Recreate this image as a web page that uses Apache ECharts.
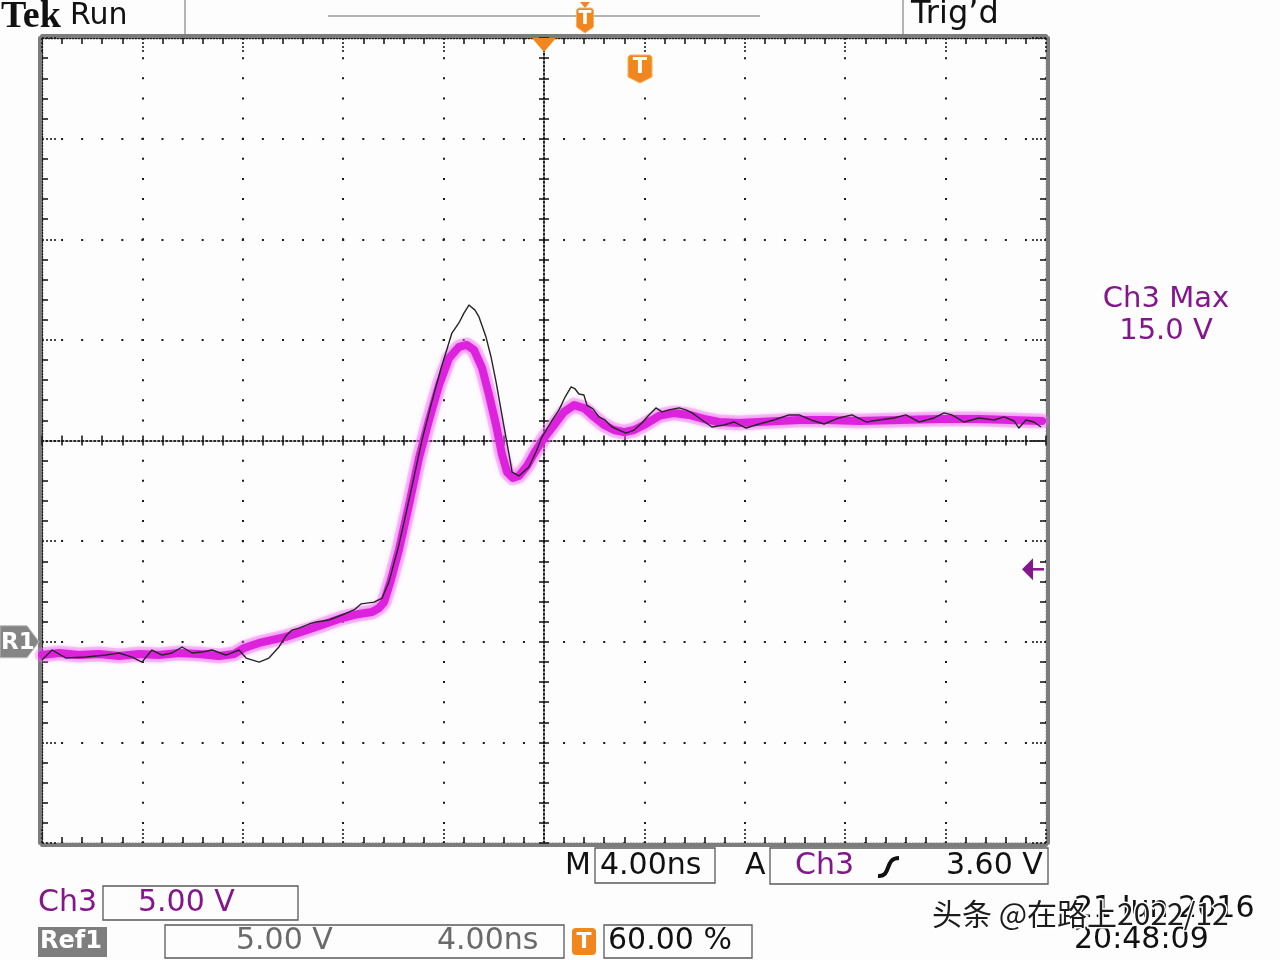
<!DOCTYPE html>
<html><head><meta charset="utf-8">
<script src="https://cdn.jsdelivr.net/npm/echarts@6/dist/echarts.min.js"></script>
<style>html,body{margin:0;padding:0;background:#fff}#c{width:1280px;height:960px}</style>
</head><body><div id="c"></div>
<script>
// Ch3 (live, magenta) : time in ns, volts
const ch3T = [-20.0,-19.32,-18.53,-17.73,-16.93,-16.14,-15.34,-14.54,-13.75,-12.95,-12.35,-11.95,-11.35,-10.28,-9.08,-8.05,-7.37,-6.85,-6.57,-6.37,-6.10,-5.78,-5.38,-4.98,-4.58,-4.18,-3.78,-3.39,-3.07,-2.79,-2.47,-2.19,-1.91,-1.67,-1.47,-1.24,-1.00,-0.68,-0.36,0,0.40,0.80,1.20,1.59,1.99,2.39,2.79,3.19,3.59,3.98,4.58,5.18,5.78,6.37,6.97,7.77,8.57,9.36,10.16,11.35,12.55,14.14,15.74,17.33,18.53,19.84];
const ch3V = [-0.66,-0.56,-0.66,-0.61,-0.71,-0.61,-0.66,-0.56,-0.61,-0.71,-0.61,-0.31,-0.06,0.24,0.73,1.18,1.38,1.48,1.68,1.97,3.07,4.56,6.79,9.13,11.02,12.76,14.10,14.65,14.75,14.50,13.61,12.26,10.77,9.28,8.43,8.14,8.24,8.73,9.43,10.12,10.77,11.42,11.76,11.61,11.17,10.77,10.52,10.42,10.52,10.77,11.22,11.37,11.27,11.07,10.92,10.87,10.92,10.97,11.02,11.02,10.97,11.02,11.07,11.07,11.02,10.97];
// Ref1 (stored, black)
const ref1T = [-20.0,-19.60,-19.04,-18.25,-17.45,-16.93,-16.41,-16.02,-15.62,-15.22,-14.82,-14.42,-14.02,-13.63,-13.23,-12.67,-12.15,-11.87,-11.35,-10.96,-10.56,-10.28,-10.04,-9.76,-9.36,-9.08,-8.57,-8.05,-7.57,-7.29,-6.77,-6.45,-6.18,-5.78,-5.38,-4.86,-4.50,-4.10,-3.90,-3.67,-3.39,-3.19,-2.99,-2.75,-2.59,-2.31,-2.11,-1.91,-1.59,-1.39,-1.27,-1.00,-0.60,-0.32,-0.08,0.28,0.60,0.84,1.08,1.24,1.39,1.59,1.71,1.95,2.19,2.43,2.71,2.99,3.27,3.59,3.90,4.18,4.46,4.70,4.98,5.38,5.66,5.90,6.18,6.69,7.17,7.57,8.05,8.57,9.16,9.76,10.16,10.64,11.16,11.75,12.27,12.83,13.35,13.94,14.42,14.94,15.54,15.94,16.25,16.73,17.33,17.93,18.33,18.73,18.92,19.20,19.52,19.80];
const ref1V = [-0.91,-0.41,-0.81,-0.76,-0.66,-0.56,-0.76,-1.01,-0.41,-0.66,-0.56,-0.26,-0.56,-0.51,-0.41,-0.66,-0.41,-0.81,-1.01,-0.81,-0.26,0.29,0.58,0.68,0.88,0.98,1.08,1.33,1.58,1.88,1.97,2.17,2.97,4.81,7.04,10.02,11.77,13.60,14.40,15.34,15.84,16.33,16.73,16.48,16.14,15.14,14.15,12.91,10.67,9.28,8.43,8.24,8.68,9.43,10.17,10.92,11.52,12.16,12.66,12.56,12.31,12.26,11.76,11.57,11.17,11.02,10.67,10.52,10.37,10.52,10.87,11.27,11.62,11.42,11.52,11.62,11.52,11.37,11.12,10.67,10.77,10.92,10.62,10.82,11.02,11.27,11.27,11.02,10.82,11.12,11.27,10.92,11.02,11.12,11.27,10.92,11.12,11.37,11.27,10.92,11.12,11.02,11.17,10.97,10.62,11.02,10.92,10.67];
// axis ranges (10 div x 4 ns, 8 div x 5 V)
const xRange = [-20, 20], xDiv = 4;
const yRange = [-10, 30], yDiv = 5;
const trigLevel = 3.60, refGround = 0, trigTime = 0;
// readouts
const header = {tek:'Tek', run:'Run', trig:'Trig\u2019d'};
const ch3MaxLines = ['Ch3 Max', '15.0 V'];
const timeBase = '4.00ns', trigSrc = 'Ch3', trigLevelTxt = '3.60 V';
const ch3Scale = '5.00 V', ref1Scale = '5.00 V', ref1Time = '4.00ns', trigPos = '60.00 %';
const dateTxt = ['21 Jun 2016', '20:48:09'];
const watermark = '头条 @在路上2022/12';

const zip = (a, b) => a.map((v, i) => [v, b[i]]);
const INK = '#1a1a1a', PURPLE = '#84168c', ORANGE = '#f0861c';
const F = '"DejaVu Sans", Verdana, sans-serif';

const gridRect = {left: 42, top: 38, width: 1004, height: 805};
const edgeX = (pos) => ({
  gridIndex: 0, type: 'value', position: pos, min: xRange[0], max: xRange[1], interval: xDiv,
  axisLine: {show: true, onZero: false, lineStyle: {color: INK, width: 1.3, type: [1.5, 1.5]}},
  axisTick: {show: true, inside: true, length: 14, lineStyle: {color: INK, width: 1.6, type: [2, 2]}},
  minorTick: {show: true, splitNumber: 5, length: 6, lineStyle: {color: INK, width: 1.6}},
  axisLabel: {show: false},
  splitLine: {show: pos === 'bottom', lineStyle: {color: INK, width: 2, type: [2, 18.125], dashOffset: 1}}
});
const edgeY = (pos) => ({
  gridIndex: 0, type: 'value', position: pos, min: yRange[0], max: yRange[1], interval: yDiv,
  axisLine: {show: true, onZero: false, lineStyle: {color: INK, width: 1.3, type: [1.5, 1.5]}},
  axisTick: {show: true, inside: true, length: 14, lineStyle: {color: INK, width: 1.6, type: [2, 2]}},
  minorTick: {show: true, splitNumber: 5, length: 6, lineStyle: {color: INK, width: 1.6}},
  axisLabel: {show: false},
  splitLine: {show: pos === 'left', lineStyle: {color: INK, width: 2, type: [2, 18.08], dashOffset: 1}}
});
const borderX = (pos) => ({
  gridIndex: 0, type: 'value', position: pos, offset: 2, min: xRange[0], max: xRange[1],
  axisLine: {show: true, onZero: false, lineStyle: {color: '#7c7c7c', width: 4}},
  axisTick: {show: false}, axisLabel: {show: false}, splitLine: {show: false}
});
const borderY = (pos) => ({
  gridIndex: 0, type: 'value', position: pos, offset: 2, min: yRange[0], max: yRange[1],
  axisLine: {show: true, onZero: false, lineStyle: {color: '#7c7c7c', width: 4}},
  axisTick: {show: false}, axisLabel: {show: false}, splitLine: {show: false}
});
const centerX = (inside) => ({
  gridIndex: 1, type: 'value', position: 'bottom', min: -20, max: 20, interval: 4,
  axisLine: {show: true, onZero: true, lineStyle: {color: INK, width: 1.6, type: [1.6, 2.4]}},
  axisTick: {show: true, inside: inside, length: 5, lineStyle: {color: INK, width: 1.6}},
  minorTick: {show: true, splitNumber: 5, length: 5, lineStyle: {color: INK, width: 1.6}},
  axisLabel: {show: false}, splitLine: {show: false}
});
const centerY = (inside) => ({
  gridIndex: 1, type: 'value', position: 'left', min: -20, max: 20, interval: 5,
  axisLine: {show: true, onZero: true, lineStyle: {color: INK, width: 1.6, type: [1.6, 2.4]}},
  axisTick: {show: true, inside: inside, length: 5, lineStyle: {color: INK, width: 1.6}},
  minorTick: {show: true, splitNumber: 5, length: 5, lineStyle: {color: INK, width: 1.6}},
  axisLabel: {show: false}, splitLine: {show: false}
});

const chart = echarts.init(document.getElementById('c'), null, {renderer: 'canvas'});
chart.setOption({
  backgroundColor: '#fdfdfe',
  animation: false,
  grid: [Object.assign({}, gridRect), Object.assign({}, gridRect)],
  xAxis: [edgeX('bottom'), edgeX('top'), borderX('bottom'), borderX('top'), centerX(true), centerX(false)],
  yAxis: [edgeY('left'), edgeY('right'), borderY('left'), borderY('right'), centerY(true), centerY(false)],
  series: [
    {type: 'line', xAxisIndex: 0, yAxisIndex: 0, data: zip(ch3T, ch3V), showSymbol: false, silent: true,
     lineStyle: {color: 'rgba(236,110,236,0.33)', width: 15, cap: 'round', join: 'round'}, z: 3},
    {type: 'line', xAxisIndex: 0, yAxisIndex: 0, data: zip(ch3T, ch3V), showSymbol: false, silent: true,
     lineStyle: {color: '#dc22dc', width: 8, cap: 'round', join: 'round', shadowBlur: 6, shadowColor: 'rgba(240,80,240,0.8)'}, z: 4},
    {type: 'line', xAxisIndex: 0, yAxisIndex: 0, data: zip(ref1T, ref1V), showSymbol: false, silent: true,
     lineStyle: {color: '#262626', width: 1.4, join: 'round'}, z: 5}
  ]
});

const px = (t, v) => chart.convertToPixel({xAxisIndex: 0, yAxisIndex: 0}, [t, v]);
const pL = px(xRange[0], refGround);        // R1 ground marker
const pR = px(xRange[1], trigLevel);        // trigger level arrow
const pT = px(trigTime, yRange[1]);         // trigger time marker

const txt = (s, x, y, size, fill, opts) => Object.assign({
  type: 'text', x: x, y: y, z: 100,
  style: Object.assign({text: s, font: size + 'px ' + F, fill: fill, textAlign: 'left', textVerticalAlign: 'middle'}, (opts || {}))
});
const box = (x, y, w, h) => ({type: 'rect', z: 90, shape: {x: x, y: y, width: w, height: h}, style: {fill: 'none', stroke: '#5a5a5a', lineWidth: 1.3}});
const tIcon = (cx, top, w, h) => ([
  {type: 'polygon', z: 95, shape: {points: [[cx - w/2, top + 2], [cx - w/2 + 2, top], [cx + w/2 - 2, top], [cx + w/2, top + 2], [cx + w/2, top + h - 6], [cx, top + h], [cx - w/2, top + h - 6]]},
   style: {fill: ORANGE, stroke: '#f6b070', lineWidth: 1}},
  {type: 'text', z: 96, x: cx, y: top + h/2 - 1, style: {text: 'T', font: 'bold ' + Math.round(h*0.75) + 'px ' + F, fill: '#fff', textAlign: 'center', textVerticalAlign: 'middle'}}
]);

const g = [];
// header
g.push(txt(header.tek, 1, 17, 38, '#111', {font: 'bold 38px "Liberation Serif", serif'}));
g.push(txt(header.run, 70, 16, 30, '#111'));
g.push({type: 'line', z: 90, shape: {x1: 185, y1: 0, x2: 185, y2: 34}, style: {stroke: '#9a9a9a', lineWidth: 1.5}});
g.push({type: 'line', z: 90, shape: {x1: 903, y1: 0, x2: 903, y2: 34}, style: {stroke: '#9a9a9a', lineWidth: 1.5}});
g.push({type: 'line', z: 90, shape: {x1: 328, y1: 16, x2: 760, y2: 16}, style: {stroke: '#6a6a6a', lineWidth: 1.2}});
g.push({type: 'polygon', z: 95, shape: {points: [[580, 2], [590, 2], [585, 8]]}, style: {fill: ORANGE}});
g.push(...tIcon(585, 8, 17, 25));
g.push(txt(header.trig, 911, 15, 32, '#111'));
// trigger position marker on graticule
g.push({type: 'polygon', z: 95, shape: {points: [[pT[0] - 12, pT[1]], [pT[0] + 12, pT[1]], [pT[0], pT[1] + 14]]}, style: {fill: ORANGE}});
g.push(...tIcon(640, 55, 24, 28));
// R1 marker
g.push({type: 'polygon', z: 95, shape: {points: [[0, pL[1] - 16], [27, pL[1] - 16], [pL[0] - 3, pL[1]], [27, pL[1] + 16], [0, pL[1] + 16]]},
  style: {fill: '#858585', stroke: '#bdbdbd', lineWidth: 1}});
g.push(txt('R1', 1, pL[1] + 1, 23, '#fff', {font: 'bold 23px ' + F}));
// trigger level arrow
g.push({type: 'polygon', z: 95, shape: {points: [[pR[0] - 24, pR[1]], [pR[0] - 13, pR[1] - 11], [pR[0] - 13, pR[1] + 11]]}, style: {fill: PURPLE}});
g.push({type: 'line', z: 95, shape: {x1: pR[0] - 14, y1: pR[1], x2: pR[0] - 2, y2: pR[1]}, style: {stroke: PURPLE, lineWidth: 2.5}});
// Ch3 Max readout
g.push(txt(ch3MaxLines[0], 1166, 299, 29, PURPLE, {textAlign: 'center'}));
g.push(txt(ch3MaxLines[1], 1166, 331, 29, PURPLE, {textAlign: 'center'}));
// bottom row 1
g.push(txt('M', 565, 866, 30, '#111'));
g.push(box(595, 848, 120, 35));
g.push(txt(timeBase, 600, 866, 30, '#111'));
g.push(txt('A', 745, 866, 30, '#111'));
g.push(box(770, 848, 278, 36));
g.push(txt(trigSrc, 795, 866, 30, PURPLE));
g.push({type: 'bezierCurve', z: 96, shape: {x1: 878, y1: 876, cpx1: 892, cpy1: 877, cpx2: 884, cpy2: 858, x2: 899, y2: 858}, style: {stroke: '#111', lineWidth: 4, fill: 'none'}});
g.push(txt(trigLevelTxt, 946, 866, 30, '#111'));
// bottom row 2
g.push(txt('Ch3', 38, 903, 30, PURPLE));
g.push(box(103, 886, 195, 34));
g.push(txt(ch3Scale, 138, 903, 30, PURPLE));
// bottom row 3
g.push({type: 'rect', z: 90, shape: {x: 38, y: 927, width: 69, height: 30}, style: {fill: '#7e7e7e'}});
g.push(txt('Ref1', 40, 942, 24, '#fff', {font: 'bold 24px ' + F}));
g.push(box(165, 925, 399, 33));
g.push(txt(ref1Scale, 236, 941, 30, '#6a6a6a'));
g.push(txt(ref1Time, 437, 941, 30, '#6a6a6a'));
g.push({type: 'rect', z: 95, shape: {x: 572, y: 928, width: 24, height: 27, r: 4}, style: {fill: ORANGE}});
g.push({type: 'text', z: 96, x: 584, y: 942, style: {text: 'T', font: 'bold 22px ' + F, fill: '#fff', textAlign: 'center', textVerticalAlign: 'middle'}});
g.push(box(604, 925, 148, 33));
g.push(txt(trigPos, 608, 941, 30, '#111'));
// date & time + watermark
g.push(txt(dateTxt[0], 1074, 909, 30, '#111'));
g.push(txt(dateTxt[1], 1074, 940, 30, '#111'));
g.push(txt(watermark, 932, 914, 30, '#1c1c1c', {font: '30px "Noto Sans CJK SC", "Noto Sans", sans-serif', stroke: '#ffffff', lineWidth: 3}));

chart.setOption({graphic: g});
</script></body></html>
